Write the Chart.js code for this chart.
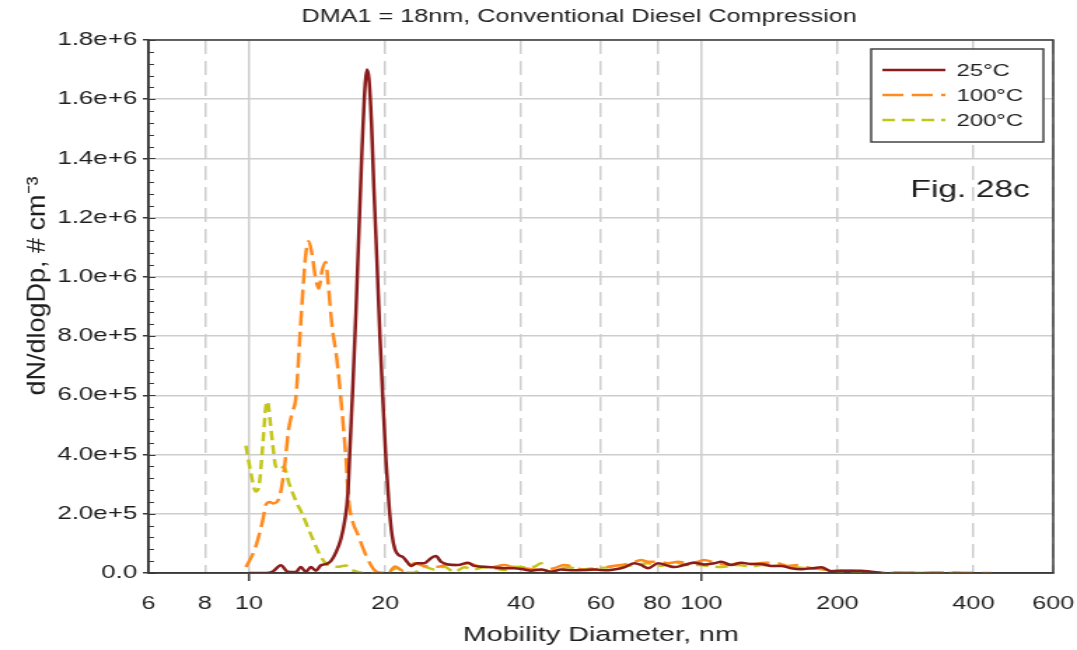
<!DOCTYPE html>
<html><head><meta charset="utf-8">
<script src="https://cdn.jsdelivr.net/npm/chart.js@4.4.1/dist/chart.umd.min.js"></script>
<style>html,body{margin:0;padding:0;background:#fff;}#wrap{width:1077px;height:650px;overflow:hidden;}</style>
</head><body>
<div id="wrap"><canvas id="c" width="769" height="650" style="width:1077px;height:650px;display:block"></canvas></div>
<script>
// ---------- data ----------
const chartTitle = 'DMA1 = 18nm, Conventional Diesel Compression';
const xTitle = 'Mobility Diameter, nm';
const yTitle = 'dN/dlogDp, # cm\u207B\u00B3';
const figLabel = 'Fig. 28c';
const seriesLabels = ['25\u00B0C', '100\u00B0C', '200\u00B0C'];
const xTickValues = [6, 8, 10, 20, 40, 60, 80, 100, 200, 400, 600];
const xMajorGrid = [10, 100];
const yTickLabels = ['0.0', '2.0e+5', '4.0e+5', '6.0e+5', '8.0e+5', '1.0e+6', '1.2e+6', '1.4e+6', '1.6e+6', '1.8e+6'];

const diam25 = [10.00, 10.52, 10.90, 11.30, 11.77, 12.20, 12.70, 13.03, 13.37, 13.71, 14.07, 14.43, 14.80, 15.18, 15.58, 15.98, 16.31, 16.56, 16.73, 16.99, 17.25, 17.51, 17.78, 18.06, 18.24, 18.43, 18.67, 18.90, 19.20, 19.49, 19.79, 20.10, 20.41, 20.72, 21.04, 21.47, 21.91, 22.37, 22.82, 23.53, 24.39, 25.27, 25.92, 26.59, 27.56, 29.00, 30.51, 31.46, 33.11, 34.83, 36.66, 38.57, 40.59, 42.06, 44.26, 46.57, 49.01, 52.36, 55.10, 57.97, 61.01, 64.19, 67.55, 71.08, 73.65, 76.33, 80.32, 84.52, 87.15, 91.70, 96.49, 101.5, 106.8, 110.7, 116.5, 122.6, 129.0, 135.7, 142.8, 150.3, 158.1, 166.4, 175.1, 184.3, 193.9, 204.0, 214.7, 225.9, 237.7, 250.1];
const n25 = [0, 0, 0, 5e3, 2.6e4, 4e3, 3e3, 2e4, 4e3, 2e4, 8e3, 2.6e4, 3e4, 4e4, 7e4, 1.15e5, 1.8e5, 2.7e5, 4.2e5, 6.4e5, 8.8e5, 1.15e6, 1.42e6, 1.64e6, 1.70e6, 1.67e6, 1.52e6, 1.3e6, 1.05e6, 8.0e5, 5.8e5, 3.8e5, 2.3e5, 1.3e5, 8e4, 6e4, 5.4e4, 3.8e4, 2.4e4, 3.3e4, 3.3e4, 5e4, 5.7e4, 3.8e4, 2.9e4, 2.7e4, 3.5e4, 2.4e4, 2.1e4, 1.9e4, 1.6e4, 1.6e4, 1.2e4, 8e3, 1.2e4, 4e3, 1.2e4, 9e3, 1e4, 1.2e4, 9e3, 1.2e4, 1.9e4, 3.3e4, 2.7e4, 1.6e4, 3.3e4, 2.4e4, 2e4, 2.7e4, 3.5e4, 2.9e4, 3.3e4, 3.8e4, 2.7e4, 3.5e4, 3e4, 3e4, 2.4e4, 2.4e4, 1.6e4, 1.3e4, 1.6e4, 1.9e4, 6e3, 8e3, 8e3, 8e3, 4e3, 1e3];

const diam100 = [9.85, 10.10, 10.36, 10.74, 10.90, 11.13, 11.30, 11.65, 11.95, 12.26, 12.49, 12.70, 13.03, 13.37, 13.57, 13.78, 14.07, 14.28, 14.51, 14.80, 14.95, 15.26, 15.66, 16.06, 16.39, 16.64, 16.99, 17.42, 17.87, 18.34, 18.90, 19.59, 20.41, 21.04, 21.91, 22.82, 23.17, 24.39, 26.19, 27.56, 29.00, 30.51, 32.06, 34.30, 36.66, 38.57, 40.59, 42.71, 44.94, 47.29, 49.76, 52.36, 55.10, 57.97, 62.26, 66.53, 70.00, 73.65, 76.33, 80.32, 84.52, 88.94, 93.59, 98.48, 101.5, 106.9, 114.6, 120.6, 129.0, 138.0, 147.8, 155.5, 163.6, 175.1, 187.4, 200.6, 214.7, 229.7, 246.0, 276.9, 306.7, 339.5, 376.0, 438.1];
const n100 = [2e4, 5e4, 9e4, 1.8e5, 2.3e5, 2.4e5, 2.35e5, 2.5e5, 3.4e5, 4.9e5, 5.45e5, 5.9e5, 8.5e5, 1.08e6, 1.12e6, 1.08e6, 9.9e5, 9.6e5, 1.02e6, 1.05e6, 9.9e5, 8.4e5, 7.2e5, 5.5e5, 3.9e5, 2.4e5, 1.7e5, 1.3e5, 8.5e4, 4.5e4, 1.2e4, 0, 2e3, 2.2e4, 8e3, 2.5e4, 3.3e4, 2.4e4, 2.1e4, 2.9e4, 2.7e4, 3.3e4, 2.4e4, 1.9e4, 2.7e4, 1.9e4, 1.6e4, 1.2e4, 1e4, 1.6e4, 2.7e4, 2.1e4, 1e4, 1.2e4, 2.1e4, 2.7e4, 3.3e4, 4.4e4, 3.8e4, 3.8e4, 3.3e4, 3.8e4, 3.3e4, 3.8e4, 4.4e4, 3.5e4, 2.7e4, 3.3e4, 3e4, 3.5e4, 3.3e4, 2.4e4, 2.7e4, 1.6e4, 1.2e4, 8e3, 8e3, 4e3, 1e3, 2e3, 1e3, 2e3, 1e3, 0];

const diam200 = [9.85, 10.10, 10.36, 10.52, 10.72, 10.90, 11.00, 11.15, 11.30, 11.47, 11.77, 11.95, 12.26, 12.82, 13.03, 13.71, 14.43, 14.95, 15.66, 16.39, 16.81, 17.42, 17.87, 19.29, 20.62, 21.33, 21.91, 23.17, 24.39, 25.70, 27.04, 28.46, 29.94, 31.46, 33.11, 34.83, 36.66, 38.57, 40.59, 42.71, 44.26, 45.80, 48.19, 50.71, 54.26, 57.97, 62.26, 66.53, 71.17, 76.22, 81.55, 87.15, 93.45, 98.48, 103.5, 110.7, 120.6, 129.0, 135.7, 145.3, 152.9, 163.6, 175.1, 187.4, 204.0, 218.3, 233.7, 276.9, 339.5, 389.1];
const n200 = [4.3e5, 3.4e5, 2.75e5, 2.9e5, 4.2e5, 5.6e5, 5.8e5, 5.1e5, 4.3e5, 3.6e5, 3.5e5, 3.6e5, 3.05e5, 2.3e5, 2.1e5, 1.3e5, 5.5e4, 2.7e4, 2.1e4, 2.5e4, 1.2e4, 4e3, 0, 0, 1e4, 1.7e4, 3e3, 1e3, 2.1e4, 1.2e4, 2.1e4, 4e3, 1.9e4, 1.2e4, 1.9e4, 1.6e4, 1e4, 2.1e4, 1.9e4, 2.1e4, 3.3e4, 4e3, 1.2e4, 1.9e4, 1.2e4, 1.6e4, 1.9e4, 2.4e4, 2.7e4, 3.3e4, 2.4e4, 3.5e4, 2.7e4, 2.7e4, 2.4e4, 2e4, 2.7e4, 2.1e4, 2.7e4, 2.4e4, 2.7e4, 1.9e4, 1.6e4, 1.2e4, 4e3, 4e3, 1e3, 1e3, 1e3, 0];

// ---------- styling ----------
// The reference picture is horizontally stretched; the canvas is drawn narrower and stretched by CSS.
const SX = 1077 / 769;
const FONT = "'Liberation Sans', Arial, sans-serif";
const TEXT = '#1e1e1e';
const GRID = '#cdcdcd';
const AXIS = '#3a3a3a';
const colors = ['#8b1c1c', '#ff8a1e', '#c2c61a'];
const dashes = [[], [15, 6], [9, 5]];

const toPts = (xs, ys) => xs.map((x, i) => ({x: x, y: ys[i]}));
const seriesData = [toPts(diam25, n25), toPts(diam100, n100), toPts(diam200, n200)];

const decor = {
  id: 'decor',
  afterDraw(chart) {
    const {ctx, chartArea: a, scales: {y}} = chart;
    ctx.save();
    // minor ticks on y axis (inside)
    ctx.strokeStyle = AXIS; ctx.lineWidth = 1;
    const minor = (y.max - y.min) / 45;
    for (let i = 0; i <= 45; i++) {
      const py = Math.round(y.getPixelForValue(y.min + i * minor)) + 0.5;
      ctx.beginPath(); ctx.moveTo(a.left, py); ctx.lineTo(a.left + (i % 5 === 0 ? 5 : 4), py); ctx.stroke();
    }
    // frame
    ctx.strokeStyle = AXIS; ctx.lineWidth = 1.5;
    ctx.strokeRect(a.left, a.top, a.right - a.left, a.bottom - a.top);
    // chart title
    ctx.fillStyle = TEXT; ctx.font = '18px ' + FONT;
    ctx.textAlign = 'center'; ctx.textBaseline = 'middle';
    ctx.fillText(chartTitle, (a.left + a.right) / 2 - 15.5, 17);
    // y axis title (kept unstretched)
    ctx.save();
    ctx.translate(27, 286);
    ctx.scale(1 / SX, 1);
    ctx.rotate(-Math.PI / 2);
    ctx.font = '27px ' + FONT;
    ctx.fillText(yTitle, 0, 0);
    ctx.restore();
    // fig label
    ctx.font = '24px ' + FONT; ctx.textAlign = 'left';
    ctx.fillText(figLabel, a.right - 102, a.top + 150);
    // legend box
    const bw = 123, bh = 93, bx = a.right - 7 - bw, by = a.top + 9;
    ctx.fillStyle = '#fff'; ctx.fillRect(bx, by, bw, bh);
    ctx.strokeStyle = '#444'; ctx.lineWidth = 1.5; ctx.strokeRect(bx, by, bw, bh);
    ctx.font = '17px ' + FONT;
    chart.data.datasets.forEach((ds, i) => {
      const ly = by + 21 + i * 25;
      ctx.strokeStyle = ds.borderColor; ctx.lineWidth = 2.5; ctx.setLineDash(ds.borderDash || []);
      ctx.beginPath(); ctx.moveTo(bx + 8, ly); ctx.lineTo(bx + 53, ly); ctx.stroke();
      ctx.setLineDash([]);
      ctx.fillStyle = TEXT; ctx.textAlign = 'left'; ctx.textBaseline = 'middle';
      ctx.fillText(ds.label, bx + 61, ly + 1);
    });
    ctx.restore();
  }
};

new Chart(document.getElementById('c'), {
  type: 'line',
  data: {
    datasets: seriesLabels.map((lab, i) => ({
      label: lab,
      data: seriesData[i],
      borderColor: colors[i],
      borderWidth: 2.5,
      borderDash: dashes[i],
      pointRadius: 0,
      fill: false,
      cubicInterpolationMode: 'monotone'
    }))
  },
  options: {
    responsive: false,
    animation: false,
    devicePixelRatio: 1,
    layout: {padding: {left: 0, right: 17, top: 40, bottom: 0}},
    plugins: {legend: {display: false}, title: {display: false}, tooltip: {enabled: false}},
    scales: {
      x: {
        type: 'logarithmic',
        min: 6, max: 600,
        afterBuildTicks: (s) => { s.ticks = xTickValues.map(v => ({value: v})); },
        afterFit: (s) => { s.height = 77; s.paddingLeft = 0; s.paddingRight = 0; },
        ticks: {
          autoSkip: false, maxRotation: 0, padding: 12,
          color: TEXT, font: {family: FONT, size: 18},
          callback: (v) => String(v)
        },
        grid: {
          color: GRID, lineWidth: 1.5,
          tickLength: 8,
          tickColor: (c) => (c.tick && xMajorGrid.includes(c.tick.value)) ? AXIS : 'rgba(0,0,0,0)'
        },
        border: {
          display: true, color: AXIS, width: 1.5,
          dash: (c) => (c.tick && !xMajorGrid.includes(c.tick.value)) ? [14, 7] : []
        },
        title: {display: true, text: xTitle, color: TEXT, font: {family: FONT, size: 20.5}, padding: {top: 0, bottom: 2}}
      },
      y: {
        min: 0, max: 1.8e6,
        afterFit: (s) => { s.width = 106; },
        ticks: {
          stepSize: 2e5, padding: 4,
          color: TEXT, font: {family: FONT, size: 18.5},
          callback: (v, i) => yTickLabels[i]
        },
        grid: {color: GRID, lineWidth: 1.5, tickLength: 4, tickColor: AXIS},
        border: {display: true, color: AXIS, width: 1.5},
        title: {display: false}
      }
    }
  },
  plugins: [decor]
});
</script>
</body></html>
